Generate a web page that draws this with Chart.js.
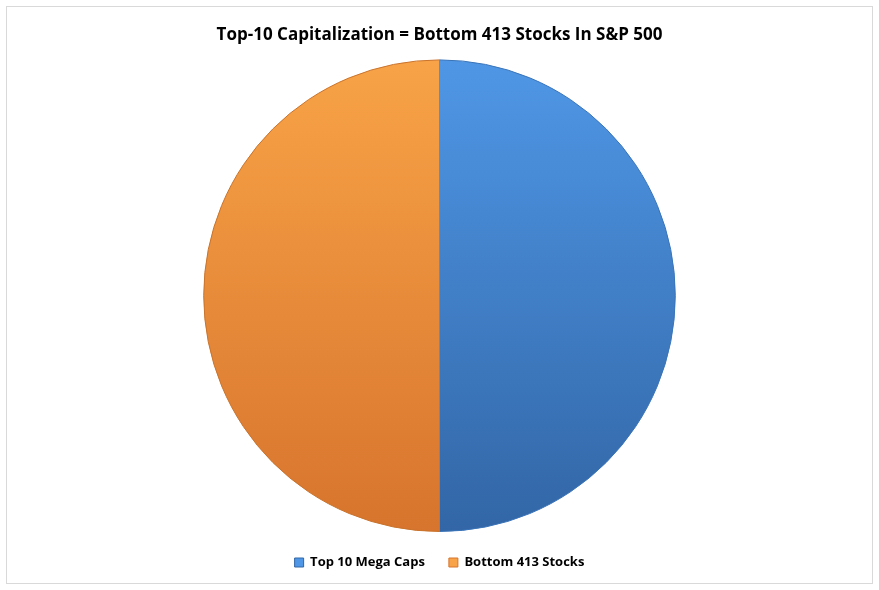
<!DOCTYPE html>
<html>
<head>
<script src="https://cdn.jsdelivr.net/npm/chart.js@4"></script>
<style>
  body { margin: 0; background: #fff; }
  #wrap { position: absolute; left: 6px; top: 6px; width: 865px; height: 576px; border: 1px solid #d9d9d9; }
</style>
</head>
<body>
<div id="wrap"><canvas id="myChart"></canvas></div>
<script>
const labels = ['Top 10 Mega Caps', 'Bottom 413 Stocks'];
const values = [50, 50];
const colorsTop = ['#4f97e6', '#f8a347'];
const colorsBottom = ['#3266a6', '#d7742d'];

function grad(ctx, i) {
    const chart = ctx.chart;
    const area = chart.chartArea;
    if (!area) return colorsTop[i];
    const g = chart.ctx.createLinearGradient(0, area.top, 0, area.bottom);
    g.addColorStop(0, colorsTop[i]);
    g.addColorStop(1, colorsBottom[i]);
    return g;
}

const data = {
    labels: labels,
    datasets: [{
        data: values,
        backgroundColor: ctx => grad(ctx, ctx.dataIndex),
        borderColor: ['#3a74b8', '#c9732c'],
        borderWidth: 1
    }]
};

const config = {
    type: 'pie',
    data: data,
    options: {
        responsive: true,
        maintainAspectRatio: false,
        animation: false,
        layout: { padding: { top: 6, bottom: 4 } },
        plugins: {
            title: {
                display: true,
                text: 'Top-10 Capitalization = Bottom 413 Stocks In S&P 500',
                color: '#000',
                font: { family: 'Open Sans', size: 17, weight: 'bold' },
                padding: { top: 12, bottom: 14 }
            },
            legend: {
                position: 'bottom',
                labels: {
                    color: '#000',
                    font: { family: 'Open Sans', size: 13, weight: 'bold' },
                    boxWidth: 9,
                    boxHeight: 9,
                    padding: 24,
                    generateLabels: chart => labels.map((l, i) => ({
                        text: l,
                        fillStyle: colorsTop[i],
                        strokeStyle: colorsBottom[i],
                        lineWidth: 1,
                        index: i
                    }))
                }
            },
            tooltip: { enabled: false }
        }
    }
};

const myChart = new Chart(document.getElementById('myChart'), config);
</script>
</body>
</html>
